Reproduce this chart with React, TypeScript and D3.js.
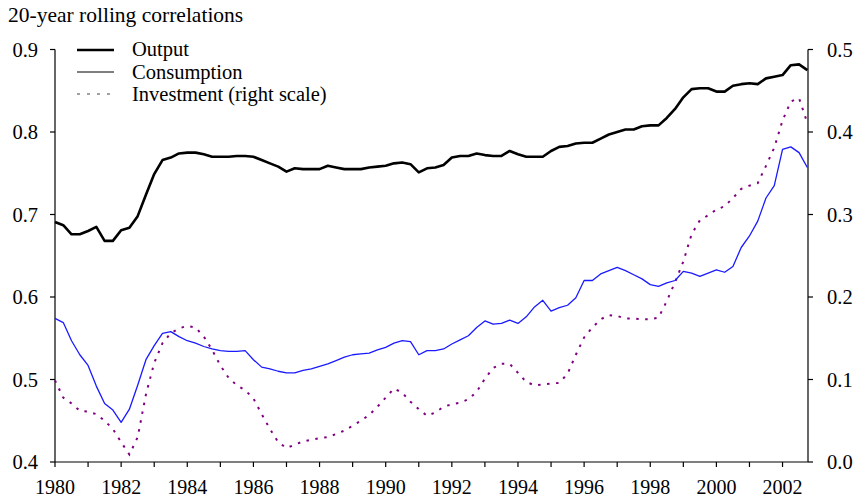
import React from 'react';
import * as d3 from 'd3';

// Quarterly observations, 1980Q1 .. 2002Q4
const startYear = 1980;
const quarters: number[] = d3.range(92).map((i) => startYear + i / 4);

const output: number[] = [
  0.691, 0.687, 0.676, 0.676, 0.680, 0.685, 0.668, 0.668, 0.681, 0.684,
  0.698, 0.724, 0.749, 0.766, 0.769, 0.774, 0.775, 0.775, 0.773, 0.770,
  0.770, 0.770, 0.771, 0.771, 0.770, 0.766, 0.762, 0.758, 0.752, 0.756,
  0.755, 0.755, 0.755, 0.759, 0.757, 0.755, 0.755, 0.755, 0.757, 0.758,
  0.759, 0.762, 0.763, 0.761, 0.751, 0.756, 0.757, 0.760, 0.769, 0.771,
  0.771, 0.774, 0.772, 0.771, 0.771, 0.777, 0.773, 0.770, 0.770, 0.770,
  0.777, 0.782, 0.783, 0.786, 0.787, 0.787, 0.792, 0.797, 0.800, 0.803,
  0.803, 0.807, 0.808, 0.808, 0.817, 0.828, 0.842, 0.852, 0.853, 0.853,
  0.849, 0.849, 0.856, 0.858, 0.859, 0.858, 0.865, 0.867, 0.869, 0.881,
  0.882, 0.875,
];

const consumption: number[] = [
  0.574, 0.569, 0.547, 0.530, 0.517, 0.492, 0.471, 0.463, 0.448, 0.464,
  0.493, 0.524, 0.541, 0.556, 0.558, 0.552, 0.547, 0.544, 0.540, 0.537,
  0.535, 0.534, 0.534, 0.535, 0.524, 0.515, 0.513, 0.510, 0.508, 0.508,
  0.511, 0.513, 0.516, 0.519, 0.523, 0.527, 0.530, 0.531, 0.532, 0.536,
  0.539, 0.544, 0.547, 0.546, 0.530, 0.535, 0.535, 0.537, 0.543, 0.548,
  0.553, 0.563, 0.571, 0.567, 0.568, 0.572, 0.568, 0.576, 0.588, 0.596,
  0.583, 0.587, 0.590, 0.599, 0.620, 0.620, 0.628, 0.632, 0.636, 0.632,
  0.627, 0.622, 0.615, 0.613, 0.617, 0.620, 0.631, 0.629, 0.625, 0.629,
  0.633, 0.630, 0.637, 0.660, 0.674, 0.692, 0.720, 0.735, 0.779, 0.782,
  0.775, 0.757,
];

const investment: number[] = [
  0.099, 0.078, 0.071, 0.062, 0.061, 0.058, 0.050, 0.040, 0.024, 0.009,
  0.030, 0.082, 0.120, 0.144, 0.156, 0.162, 0.165, 0.163, 0.152, 0.136,
  0.117, 0.102, 0.093, 0.087, 0.077, 0.058, 0.040, 0.024, 0.017, 0.021,
  0.025, 0.027, 0.029, 0.030, 0.034, 0.038, 0.044, 0.050, 0.057, 0.067,
  0.078, 0.089, 0.084, 0.073, 0.064, 0.056, 0.060, 0.067, 0.070, 0.072,
  0.076, 0.085, 0.101, 0.114, 0.119, 0.119, 0.108, 0.097, 0.093, 0.094,
  0.095, 0.096, 0.107, 0.130, 0.151, 0.163, 0.173, 0.178, 0.177, 0.174,
  0.174, 0.173, 0.173, 0.175, 0.195, 0.218, 0.243, 0.276, 0.293, 0.299,
  0.306, 0.310, 0.320, 0.331, 0.335, 0.338, 0.359, 0.381, 0.414, 0.437,
  0.441, 0.411,
];

const xTickYears: number[] = d3.range(1980, 2003);
const xLabelYears: number[] = [1980, 1982, 1984, 1986, 1988, 1990, 1992, 1994, 1996, 1998, 2000, 2002];
const leftTicks: number[] = [0.4, 0.5, 0.6, 0.7, 0.8, 0.9];
const rightTicks: number[] = [0.0, 0.1, 0.2, 0.3, 0.4, 0.5];

const title = '20-year rolling correlations';
const legendLabels = ['Output', 'Consumption', 'Investment (right scale)'];

const FONT = '"Liberation Serif", "Times New Roman", serif';

export default function App() {
  const W = 862;
  const H = 502;
  const left = 55;
  const right = 808;
  const top = 49.5;
  const bottom = 462;

  const x = d3.scaleLinear().domain([1980, 2002.77]).range([left, right]);
  const yL = d3.scaleLinear().domain([0.4, 0.9]).range([bottom, top]);
  const yR = d3.scaleLinear().domain([0, 0.5]).range([bottom, top]);

  const lineL = d3
    .line<number>()
    .x((_, i) => x(quarters[i]))
    .y((d) => yL(d));
  const lineR = d3
    .line<number>()
    .x((_, i) => x(quarters[i]))
    .y((d) => yR(d));

  const fmt = d3.format('.1f');

  return (
    <svg
      width={W}
      height={H}
      style={{ position: 'absolute', left: 0, top: 0, display: 'block', background: '#fff' }}
      fontFamily={FONT}
    >
      <rect x={0} y={0} width={W} height={H} fill="#fff" />
      <text x={8} y={22} fontSize={21.5} fill="#000">
        {title}
      </text>

      {/* axes */}
      <line x1={left} x2={left} y1={top} y2={bottom} stroke="#000" strokeWidth={1.2} />
      <line x1={right} x2={right} y1={top} y2={bottom} stroke="#000" strokeWidth={1.2} />
      <line x1={left} x2={right} y1={bottom} y2={bottom} stroke="#000" strokeWidth={1.2} />

      {leftTicks.map((t) => (
        <g key={'l' + t}>
          <line x1={left - 5} x2={left} y1={yL(t)} y2={yL(t)} stroke="#000" strokeWidth={1.2} />
          <text x={38} y={yL(t) + 7} fontSize={20.5} textAnchor="end" fill="#000">
            {fmt(t)}
          </text>
        </g>
      ))}
      {rightTicks.map((t) => (
        <g key={'r' + t}>
          <line x1={right} x2={right + 5} y1={yR(t)} y2={yR(t)} stroke="#000" strokeWidth={1.2} />
          <text x={827} y={yR(t) + 7} fontSize={20.5} textAnchor="start" fill="#000">
            {fmt(t)}
          </text>
        </g>
      ))}
      {xTickYears.map((yr) => (
        <line key={'x' + yr} x1={x(yr)} x2={x(yr)} y1={bottom} y2={bottom + 5} stroke="#000" strokeWidth={1.2} />
      ))}
      {xLabelYears.map((yr) => (
        <text key={'xl' + yr} x={x(yr)} y={494} fontSize={20} textAnchor="middle" fill="#000">
          {yr}
        </text>
      ))}

      {/* series */}
      <path d={lineR(investment) || ''} fill="none" stroke="#800080" strokeWidth={2} strokeDasharray="2.5,6.5" />
      <path d={lineL(consumption) || ''} fill="none" stroke="#1a1aff" strokeWidth={1.3} strokeLinejoin="round" />
      <path d={lineL(output) || ''} fill="none" stroke="#000" strokeWidth={2.6} strokeLinejoin="round" />

      {/* legend */}
      <g>
        <line x1={77} x2={114} y1={50} y2={50} stroke="#000" strokeWidth={2.6} />
        <line x1={77} x2={114} y1={72} y2={72} stroke="#000" strokeWidth={1} />
        <line x1={77} x2={114} y1={94} y2={94} stroke="#444" strokeWidth={1} strokeDasharray="3,7" />
        {legendLabels.map((lab, i) => (
          <text key={lab} x={132} y={56 + i * 22.5} fontSize={20.5} fill="#000">
            {lab}
          </text>
        ))}
      </g>
    </svg>
  );
}
